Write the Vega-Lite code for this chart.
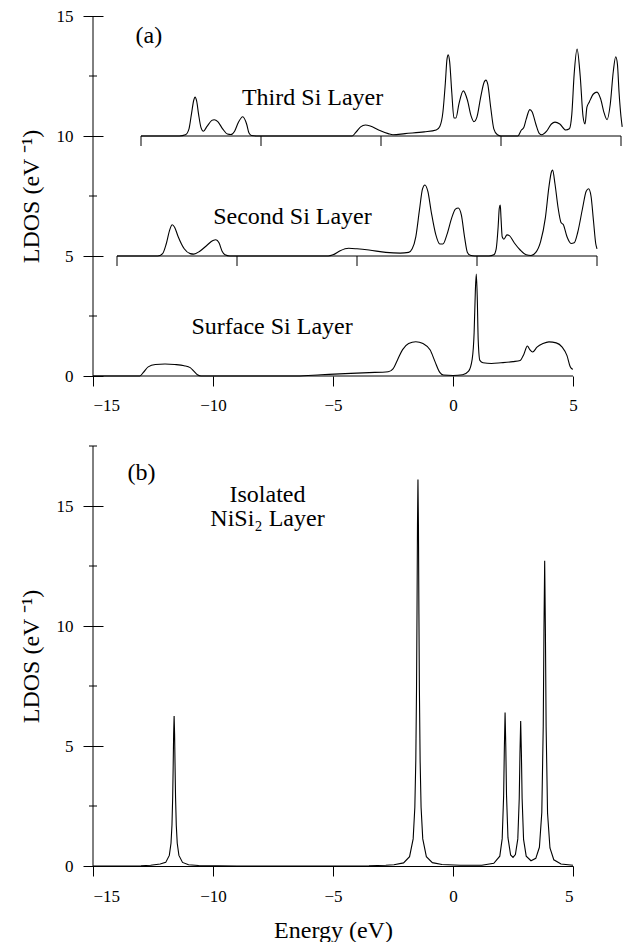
{
  "$schema": "https://vega.github.io/schema/vega-lite/v6.json",
  "background": "white",
  "padding": {"left": 19, "top": 7, "right": 0, "bottom": 0},
  "spacing": 32,
  "config": {
    "view": {"stroke": null},
    "font": "Liberation Serif",
    "text": {"font": "Liberation Serif"},
    "axis": {
      "labelFont": "Liberation Serif", "titleFont": "Liberation Serif",
      "labelFontSize": 17, "titleFontSize": 24, "titleFontWeight": "normal",
      "labelColor": "black", "titleColor": "black", "tickColor": "black", "domainColor": "black",
      "tickWidth": 1, "domainWidth": 1, "grid": false
    }
  },
  "datasets": {
    "layersA": [
      {"layer": "third", "E": -13, "D": 10}, {"layer": "third", "E": -11.4, "D": 10}, {"layer": "third", "E": -11.15, "D": 10.05},
      {"layer": "third", "E": -11.0, "D": 10.3}, {"layer": "third", "E": -10.9, "D": 10.9}, {"layer": "third", "E": -10.8, "D": 11.5},
      {"layer": "third", "E": -10.75, "D": 11.62}, {"layer": "third", "E": -10.68, "D": 11.45}, {"layer": "third", "E": -10.6, "D": 10.9},
      {"layer": "third", "E": -10.5, "D": 10.35}, {"layer": "third", "E": -10.4, "D": 10.2}, {"layer": "third", "E": -10.25, "D": 10.4},
      {"layer": "third", "E": -10.05, "D": 10.65}, {"layer": "third", "E": -9.95, "D": 10.68}, {"layer": "third", "E": -9.8, "D": 10.6},
      {"layer": "third", "E": -9.6, "D": 10.3}, {"layer": "third", "E": -9.4, "D": 10.08}, {"layer": "third", "E": -9.25, "D": 10.06},
      {"layer": "third", "E": -9.1, "D": 10.2}, {"layer": "third", "E": -8.95, "D": 10.55}, {"layer": "third", "E": -8.76, "D": 10.8},
      {"layer": "third", "E": -8.6, "D": 10.5}, {"layer": "third", "E": -8.5, "D": 10.12}, {"layer": "third", "E": -8.4, "D": 10.02},
      {"layer": "third", "E": -8.2, "D": 10}, {"layer": "third", "E": -4.2, "D": 10}, {"layer": "third", "E": -4.05, "D": 10.15},
      {"layer": "third", "E": -3.85, "D": 10.38}, {"layer": "third", "E": -3.65, "D": 10.46}, {"layer": "third", "E": -3.45, "D": 10.42},
      {"layer": "third", "E": -3.1, "D": 10.25}, {"layer": "third", "E": -2.7, "D": 10.1}, {"layer": "third", "E": -2.5, "D": 10.05},
      {"layer": "third", "E": -2.0, "D": 10.1}, {"layer": "third", "E": -1.2, "D": 10.17}, {"layer": "third", "E": -0.7, "D": 10.25},
      {"layer": "third", "E": -0.55, "D": 10.4}, {"layer": "third", "E": -0.42, "D": 11.0}, {"layer": "third", "E": -0.32, "D": 12.2},
      {"layer": "third", "E": -0.25, "D": 13.2}, {"layer": "third", "E": -0.2, "D": 13.38}, {"layer": "third", "E": -0.14, "D": 13.1},
      {"layer": "third", "E": -0.05, "D": 11.8}, {"layer": "third", "E": 0.04, "D": 10.75}, {"layer": "third", "E": 0.12, "D": 10.75},
      {"layer": "third", "E": 0.25, "D": 11.35}, {"layer": "third", "E": 0.43, "D": 11.88}, {"layer": "third", "E": 0.6, "D": 11.5},
      {"layer": "third", "E": 0.75, "D": 10.85}, {"layer": "third", "E": 0.87, "D": 10.6}, {"layer": "third", "E": 1.0, "D": 10.8},
      {"layer": "third", "E": 1.15, "D": 11.6}, {"layer": "third", "E": 1.3, "D": 12.25}, {"layer": "third", "E": 1.37, "D": 12.33},
      {"layer": "third", "E": 1.45, "D": 12.15}, {"layer": "third", "E": 1.57, "D": 11.2}, {"layer": "third", "E": 1.7, "D": 10.3},
      {"layer": "third", "E": 1.85, "D": 10.05}, {"layer": "third", "E": 2.0, "D": 10}, {"layer": "third", "E": 2.7, "D": 10},
      {"layer": "third", "E": 2.85, "D": 10.25}, {"layer": "third", "E": 2.95, "D": 10.35}, {"layer": "third", "E": 3.05, "D": 10.7},
      {"layer": "third", "E": 3.2, "D": 11.1}, {"layer": "third", "E": 3.3, "D": 11.0}, {"layer": "third", "E": 3.45, "D": 10.5},
      {"layer": "third", "E": 3.6, "D": 10.1}, {"layer": "third", "E": 3.7, "D": 10.05}, {"layer": "third", "E": 3.9, "D": 10.2},
      {"layer": "third", "E": 4.1, "D": 10.5}, {"layer": "third", "E": 4.25, "D": 10.58}, {"layer": "third", "E": 4.45, "D": 10.5},
      {"layer": "third", "E": 4.7, "D": 10.25}, {"layer": "third", "E": 4.85, "D": 10.3}, {"layer": "third", "E": 4.95, "D": 10.9},
      {"layer": "third", "E": 5.05, "D": 12.6}, {"layer": "third", "E": 5.17, "D": 13.62}, {"layer": "third", "E": 5.3, "D": 12.5},
      {"layer": "third", "E": 5.42, "D": 10.8}, {"layer": "third", "E": 5.5, "D": 10.5}, {"layer": "third", "E": 5.58, "D": 11.2},
      {"layer": "third", "E": 5.68, "D": 11.42}, {"layer": "third", "E": 5.85, "D": 11.75}, {"layer": "third", "E": 6.0, "D": 11.83},
      {"layer": "third", "E": 6.15, "D": 11.55}, {"layer": "third", "E": 6.3, "D": 10.95}, {"layer": "third", "E": 6.42, "D": 10.68},
      {"layer": "third", "E": 6.55, "D": 11.3}, {"layer": "third", "E": 6.68, "D": 12.7}, {"layer": "third", "E": 6.78, "D": 13.3},
      {"layer": "third", "E": 6.85, "D": 13.0}, {"layer": "third", "E": 6.92, "D": 11.8}, {"layer": "third", "E": 7.0, "D": 10.8},
      {"layer": "third", "E": 7.05, "D": 10.38},

      {"layer": "second", "E": -14, "D": 5}, {"layer": "second", "E": -12.3, "D": 5}, {"layer": "second", "E": -12.1, "D": 5.1},
      {"layer": "second", "E": -11.95, "D": 5.5}, {"layer": "second", "E": -11.8, "D": 6.1}, {"layer": "second", "E": -11.7, "D": 6.3},
      {"layer": "second", "E": -11.6, "D": 6.2}, {"layer": "second", "E": -11.45, "D": 5.8}, {"layer": "second", "E": -11.2, "D": 5.3},
      {"layer": "second", "E": -10.95, "D": 5.1}, {"layer": "second", "E": -10.8, "D": 5.08}, {"layer": "second", "E": -10.55, "D": 5.2},
      {"layer": "second", "E": -10.25, "D": 5.45}, {"layer": "second", "E": -10.0, "D": 5.65}, {"layer": "second", "E": -9.88, "D": 5.68},
      {"layer": "second", "E": -9.75, "D": 5.55}, {"layer": "second", "E": -9.62, "D": 5.2}, {"layer": "second", "E": -9.5, "D": 5.05},
      {"layer": "second", "E": -9.3, "D": 5}, {"layer": "second", "E": -5.2, "D": 5}, {"layer": "second", "E": -5.0, "D": 5.05},
      {"layer": "second", "E": -4.7, "D": 5.22}, {"layer": "second", "E": -4.35, "D": 5.32}, {"layer": "second", "E": -4.0, "D": 5.3},
      {"layer": "second", "E": -3.5, "D": 5.25}, {"layer": "second", "E": -2.8, "D": 5.15}, {"layer": "second", "E": -2.2, "D": 5.12},
      {"layer": "second", "E": -1.85, "D": 5.15}, {"layer": "second", "E": -1.7, "D": 5.3}, {"layer": "second", "E": -1.55, "D": 5.8},
      {"layer": "second", "E": -1.4, "D": 6.9}, {"layer": "second", "E": -1.27, "D": 7.8}, {"layer": "second", "E": -1.17, "D": 7.96},
      {"layer": "second", "E": -1.05, "D": 7.7}, {"layer": "second", "E": -0.9, "D": 6.8}, {"layer": "second", "E": -0.72, "D": 5.9},
      {"layer": "second", "E": -0.55, "D": 5.5}, {"layer": "second", "E": -0.42, "D": 5.5}, {"layer": "second", "E": -0.25, "D": 5.9},
      {"layer": "second", "E": -0.05, "D": 6.6}, {"layer": "second", "E": 0.1, "D": 6.95}, {"layer": "second", "E": 0.22, "D": 7.0},
      {"layer": "second", "E": 0.35, "D": 6.7}, {"layer": "second", "E": 0.48, "D": 5.8}, {"layer": "second", "E": 0.6, "D": 5.15},
      {"layer": "second", "E": 0.72, "D": 5.03}, {"layer": "second", "E": 0.9, "D": 5}, {"layer": "second", "E": 1.5, "D": 5},
      {"layer": "second", "E": 1.7, "D": 5.05}, {"layer": "second", "E": 1.8, "D": 5.3}, {"layer": "second", "E": 1.88, "D": 6.2},
      {"layer": "second", "E": 1.93, "D": 7.0}, {"layer": "second", "E": 1.97, "D": 7.12}, {"layer": "second", "E": 2.0, "D": 6.6},
      {"layer": "second", "E": 2.05, "D": 5.8}, {"layer": "second", "E": 2.12, "D": 5.7}, {"layer": "second", "E": 2.25, "D": 5.88},
      {"layer": "second", "E": 2.35, "D": 5.85}, {"layer": "second", "E": 2.55, "D": 5.55}, {"layer": "second", "E": 2.8, "D": 5.25},
      {"layer": "second", "E": 3.05, "D": 5.05}, {"layer": "second", "E": 3.25, "D": 5.02}, {"layer": "second", "E": 3.45, "D": 5.15},
      {"layer": "second", "E": 3.65, "D": 5.6}, {"layer": "second", "E": 3.85, "D": 6.6}, {"layer": "second", "E": 4.0, "D": 7.9},
      {"layer": "second", "E": 4.1, "D": 8.5}, {"layer": "second", "E": 4.15, "D": 8.58}, {"layer": "second", "E": 4.25, "D": 8.0},
      {"layer": "second", "E": 4.38, "D": 7.0}, {"layer": "second", "E": 4.5, "D": 6.4}, {"layer": "second", "E": 4.6, "D": 6.3},
      {"layer": "second", "E": 4.75, "D": 5.8}, {"layer": "second", "E": 4.92, "D": 5.52}, {"layer": "second", "E": 5.05, "D": 5.55},
      {"layer": "second", "E": 5.2, "D": 6.0}, {"layer": "second", "E": 5.4, "D": 7.0}, {"layer": "second", "E": 5.55, "D": 7.7},
      {"layer": "second", "E": 5.65, "D": 7.8}, {"layer": "second", "E": 5.75, "D": 7.5}, {"layer": "second", "E": 5.85, "D": 6.5},
      {"layer": "second", "E": 5.95, "D": 5.5}, {"layer": "second", "E": 6.0, "D": 5.3},

      {"layer": "surface", "E": -15, "D": 0}, {"layer": "surface", "E": -13.05, "D": 0}, {"layer": "surface", "E": -12.9, "D": 0.15},
      {"layer": "surface", "E": -12.7, "D": 0.38}, {"layer": "surface", "E": -12.4, "D": 0.48}, {"layer": "surface", "E": -12.0, "D": 0.5},
      {"layer": "surface", "E": -11.6, "D": 0.48}, {"layer": "surface", "E": -11.2, "D": 0.43}, {"layer": "surface", "E": -10.95, "D": 0.35},
      {"layer": "surface", "E": -10.8, "D": 0.2}, {"layer": "surface", "E": -10.65, "D": 0.05}, {"layer": "surface", "E": -10.5, "D": 0},
      {"layer": "surface", "E": -6.5, "D": 0}, {"layer": "surface", "E": -5.5, "D": 0.05}, {"layer": "surface", "E": -4.5, "D": 0.1},
      {"layer": "surface", "E": -3.5, "D": 0.14}, {"layer": "surface", "E": -2.7, "D": 0.18}, {"layer": "surface", "E": -2.5, "D": 0.3},
      {"layer": "surface", "E": -2.3, "D": 0.7}, {"layer": "surface", "E": -2.1, "D": 1.1}, {"layer": "surface", "E": -1.85, "D": 1.35},
      {"layer": "surface", "E": -1.55, "D": 1.43}, {"layer": "surface", "E": -1.25, "D": 1.35}, {"layer": "surface", "E": -0.95, "D": 1.08},
      {"layer": "surface", "E": -0.75, "D": 0.6}, {"layer": "surface", "E": -0.55, "D": 0.15}, {"layer": "surface", "E": -0.4, "D": 0.04},
      {"layer": "surface", "E": 0.0, "D": 0.02}, {"layer": "surface", "E": 0.4, "D": 0.05}, {"layer": "surface", "E": 0.65, "D": 0.2},
      {"layer": "surface", "E": 0.8, "D": 0.7}, {"layer": "surface", "E": 0.88, "D": 1.8}, {"layer": "surface", "E": 0.93, "D": 3.5},
      {"layer": "surface", "E": 0.97, "D": 4.25}, {"layer": "surface", "E": 1.01, "D": 3.3}, {"layer": "surface", "E": 1.05, "D": 1.5},
      {"layer": "surface", "E": 1.12, "D": 0.65}, {"layer": "surface", "E": 1.25, "D": 0.55}, {"layer": "surface", "E": 1.6, "D": 0.52},
      {"layer": "surface", "E": 2.0, "D": 0.55}, {"layer": "surface", "E": 2.5, "D": 0.6}, {"layer": "surface", "E": 2.8, "D": 0.65},
      {"layer": "surface", "E": 2.95, "D": 0.9}, {"layer": "surface", "E": 3.1, "D": 1.25}, {"layer": "surface", "E": 3.2, "D": 1.1},
      {"layer": "surface", "E": 3.32, "D": 1.0}, {"layer": "surface", "E": 3.5, "D": 1.2}, {"layer": "surface", "E": 3.75, "D": 1.35},
      {"layer": "surface", "E": 4.0, "D": 1.42}, {"layer": "surface", "E": 4.3, "D": 1.38}, {"layer": "surface", "E": 4.55, "D": 1.2},
      {"layer": "surface", "E": 4.75, "D": 0.85}, {"layer": "surface", "E": 4.88, "D": 0.4}, {"layer": "surface", "E": 4.95, "D": 0.3},
      {"layer": "surface", "E": 5.0, "D": 0.28}
    ],
    "basesA": [
      {"layer": "third", "E": -13, "E2": 7, "D": 10},
      {"layer": "second", "E": -14, "E2": 6, "D": 5},
      {"layer": "surface", "E": -15, "E2": 5, "D": 0}
    ],
    "insetTicks": [
      {"E": -13, "D": 10}, {"E": -8, "D": 10}, {"E": -3, "D": 10}, {"E": 2, "D": 10}, {"E": 7, "D": 10},
      {"E": -14, "D": 5}, {"E": -9, "D": 5}, {"E": -4, "D": 5}, {"E": 1, "D": 5}, {"E": 6, "D": 5}
    ],
    "labelsA": [
      {"label": "(a)", "E": -12.67, "D": 14.15},
      {"label": "Third Si Layer", "E": -5.85, "D": 11.58},
      {"label": "Second Si Layer", "E": -6.69, "D": 6.62},
      {"label": "Surface Si Layer", "E": -7.54, "D": 2.04}
    ],
    "isolated": [
      {"E": -15, "D": 0}, {"E": -13, "D": 0.01}, {"E": -12.6, "D": 0.03}, {"E": -12.2, "D": 0.08},
      {"E": -11.97, "D": 0.15}, {"E": -11.82, "D": 0.44}, {"E": -11.75, "D": 0.95}, {"E": -11.71, "D": 1.7},
      {"E": -11.68, "D": 2.85}, {"E": -11.66, "D": 4.1}, {"E": -11.64, "D": 5.5}, {"E": -11.62, "D": 6.25},
      {"E": -11.6, "D": 5.5}, {"E": -11.58, "D": 4.1}, {"E": -11.56, "D": 2.85}, {"E": -11.53, "D": 1.7},
      {"E": -11.49, "D": 0.95}, {"E": -11.42, "D": 0.44}, {"E": -11.27, "D": 0.15}, {"E": -11.02, "D": 0.05},
      {"E": -10.6, "D": 0.02}, {"E": -9, "D": 0}, {"E": -3.5, "D": 0.01}, {"E": -2.8, "D": 0.03},
      {"E": -2.46, "D": 0.05}, {"E": -2.06, "D": 0.13}, {"E": -1.81, "D": 0.39}, {"E": -1.66, "D": 1.13},
      {"E": -1.59, "D": 2.45}, {"E": -1.55, "D": 4.4}, {"E": -1.52, "D": 7.35}, {"E": -1.5, "D": 10.5},
      {"E": -1.48, "D": 14.2}, {"E": -1.46, "D": 16.1}, {"E": -1.44, "D": 14.2}, {"E": -1.42, "D": 10.5},
      {"E": -1.4, "D": 7.35}, {"E": -1.37, "D": 4.4}, {"E": -1.33, "D": 2.45}, {"E": -1.26, "D": 1.13},
      {"E": -1.11, "D": 0.39}, {"E": -0.86, "D": 0.14}, {"E": -0.46, "D": 0.06}, {"E": 0.3, "D": 0.03},
      {"E": 1.2, "D": 0.03}, {"E": 1.7, "D": 0.11}, {"E": 1.95, "D": 0.41}, {"E": 2.05, "D": 1.14},
      {"E": 2.11, "D": 2.94}, {"E": 2.14, "D": 4.94}, {"E": 2.17, "D": 6.4}, {"E": 2.2, "D": 4.95},
      {"E": 2.23, "D": 2.95}, {"E": 2.29, "D": 1.18}, {"E": 2.4, "D": 0.46}, {"E": 2.5, "D": 0.36},
      {"E": 2.6, "D": 0.48}, {"E": 2.7, "D": 1.13}, {"E": 2.76, "D": 2.81}, {"E": 2.79, "D": 4.68},
      {"E": 2.82, "D": 6.04}, {"E": 2.85, "D": 4.68}, {"E": 2.88, "D": 2.81}, {"E": 2.94, "D": 1.11},
      {"E": 3.05, "D": 0.41}, {"E": 3.25, "D": 0.22}, {"E": 3.45, "D": 0.32}, {"E": 3.6, "D": 0.78},
      {"E": 3.7, "D": 2.23}, {"E": 3.76, "D": 5.82}, {"E": 3.79, "D": 9.8}, {"E": 3.82, "D": 12.72},
      {"E": 3.85, "D": 9.8}, {"E": 3.88, "D": 5.8}, {"E": 3.94, "D": 2.2}, {"E": 4.04, "D": 0.75},
      {"E": 4.2, "D": 0.26}, {"E": 4.5, "D": 0.08}, {"E": 5.0, "D": 0.03}
    ],
    "labelsB": [
      {"label": "(b)", "E": -12.98, "D": 16.375},
      {"label": "Isolated", "E": -7.73, "D": 15.45},
      {"label": "NiSi₂ Layer", "E": -7.73, "D": 14.45}
    ]
  },
  "vconcat": [
    {
      "width": 528,
      "height": 360,
      "encoding": {
        "x": {"field": "E", "type": "quantitative",
              "scale": {"domain": [-15, 7], "nice": false, "zero": false},
              "axis": {"values": [-15, -10, -5, 0, 5], "domain": false, "tickSize": 10, "labelPadding": 11, "title": null}},
        "y": {"field": "D", "type": "quantitative",
              "scale": {"domain": [0, 15], "nice": false},
              "axis": {"values": [0, 5, 10, 15], "domain": false, "offset": -10, "tickSize": 20, "labelPadding": 10,
                       "title": "LDOS (eV ⁻¹)", "titlePadding": 13}}
      },
      "layer": [
        {
          "data": {"name": "layersA"},
          "mark": {"type": "line", "interpolate": "monotone", "color": "black", "strokeWidth": 1.1},
          "encoding": {"detail": {"field": "layer"}}
        },
        {
          "data": {"name": "basesA"},
          "mark": {"type": "rule", "color": "black", "strokeWidth": 1},
          "encoding": {"x2": {"field": "E2"}}
        },
        {
          "data": {"name": "insetTicks"},
          "mark": {"type": "tick", "orient": "vertical", "size": 10, "thickness": 1, "yOffset": 5, "color": "black", "opacity": 1}
        },
        {
          "data": {"values": [{"E": -15, "D": 0, "D2": 15}]},
          "mark": {"type": "rule", "color": "black", "strokeWidth": 1},
          "encoding": {"y2": {"field": "D2"}}
        },
        {
          "data": {"values": [{"E": -15, "D": 2.5}, {"E": -15, "D": 7.5}, {"E": -15, "D": 12.5}]},
          "mark": {"type": "tick", "orient": "horizontal", "size": 8, "thickness": 1, "color": "black", "opacity": 1}
        },
        {
          "data": {"name": "labelsA"},
          "mark": {"type": "text", "fontSize": 24, "align": "center", "baseline": "middle", "color": "black"},
          "encoding": {"text": {"field": "label"}}
        }
      ]
    },
    {
      "width": 480,
      "height": 420,
      "encoding": {
        "x": {"field": "E", "type": "quantitative",
              "scale": {"domain": [-15, 5], "nice": false, "zero": false},
              "axis": {"values": [-15, -10, -5, 0, 5], "domain": true, "tickSize": 10, "labelPadding": 12,
                       "title": "Energy (eV)", "titlePadding": 14}},
        "y": {"field": "D", "type": "quantitative",
              "scale": {"domain": [0, 17.5], "nice": false},
              "axis": {"values": [0, 5, 10, 15], "domain": false, "offset": -10, "tickSize": 20, "labelPadding": 10,
                       "title": "LDOS (eV ⁻¹)", "titlePadding": 13}}
      },
      "layer": [
        {
          "data": {"name": "isolated"},
          "mark": {"type": "line", "interpolate": "linear", "color": "black", "strokeWidth": 1.1}
        },
        {
          "data": {"values": [{"E": -15, "D": 0, "D2": 17.5}]},
          "mark": {"type": "rule", "color": "black", "strokeWidth": 1},
          "encoding": {"y2": {"field": "D2"}}
        },
        {
          "data": {"values": [{"E": -15, "D": 2.5}, {"E": -15, "D": 7.5}, {"E": -15, "D": 12.5}, {"E": -15, "D": 17.5}]},
          "mark": {"type": "tick", "orient": "horizontal", "size": 8, "thickness": 1, "color": "black", "opacity": 1}
        },
        {
          "data": {"name": "labelsB"},
          "mark": {"type": "text", "fontSize": 24, "align": "center", "baseline": "middle", "color": "black"},
          "encoding": {"text": {"field": "label"}}
        }
      ]
    }
  ]
}
